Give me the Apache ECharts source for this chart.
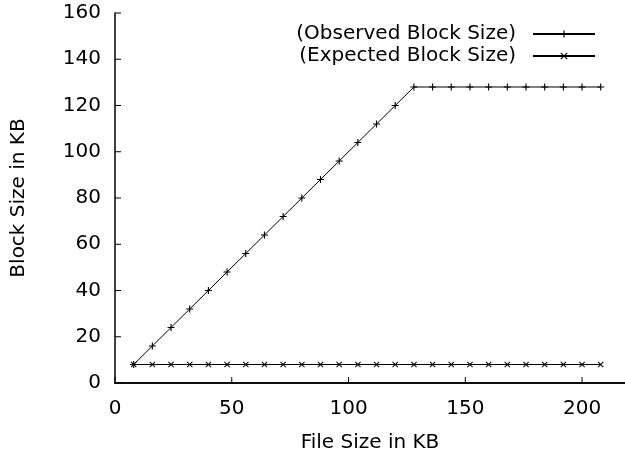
<!DOCTYPE html>
<html>
<head>
<meta charset="utf-8">
<script src="https://cdn.jsdelivr.net/npm/echarts@6/dist/echarts.min.js"></script>
<style>html,body{margin:0;padding:0;background:#fff}#c{width:625px;height:458px}</style>
</head>
<body>
<div id="c"></div>
<script>
var fileSizes = [8,16,24,32,40,48,56,64,72,80,88,96,104,112,120,128,136,144,152,160,168,176,184,192,200,208];
var observed  = [8,16,24,32,40,48,56,64,72,80,88,96,104,112,120,128,128,128,128,128,128,128,128,128,128,128];
var expected  = [8,8,8,8,8,8,8,8,8,8,8,8,8,8,8,8,8,8,8,8,8,8,8,8,8,8];
var xTicks = [0,50,100,150,200];
var yTicks = [0,20,40,60,80,100,120,140,160];
var seriesNames = ['(Observed Block Size)', '(Expected Block Size)'];

var FONT = 'DejaVu Sans';
var plusPath = 'path://M4.2,0H5.8V4.2H10V5.8H5.8V10H4.2V5.8H0V4.2H4.2Z';
var crossPath = 'path://M0,1.1L1.1,0L5,3.9L8.9,0L10,1.1L6.1,5L10,8.9L8.9,10L5,6.1L1.1,10L0,8.9L3.9,5Z';
var X_MAX = 218.4;
var TICK_LEN = 6;

function pairs(xs, ys){ return xs.map(function(x,i){ return [x, ys[i]]; }); }
function tickFmt(list){ return function(v){ return list.indexOf(v) >= 0 ? String(v) : ''; }; }

// inward tick marks, placed through the axes' own scales
function tickSeries(data, dx, dy){
  return {
    type: 'custom', silent: true, xAxisIndex: 0, yAxisIndex: 0, z: 5,
    data: data,
    renderItem: function(params, api){
      var p = api.coord([api.value(0), api.value(1)]);
      return {type: 'line', shape: {x1: p[0], y1: p[1], x2: p[0] + dx, y2: p[1] + dy},
              style: {stroke: '#000', lineWidth: 1}};
    }
  };
}

var chart = echarts.init(document.getElementById('c'), null, {renderer:'canvas'});
chart.setOption({
  animation: false,
  backgroundColor: '#fff',
  textStyle: {fontFamily: FONT},
  grid: {left: 115, right: 0, top: 13, bottom: 73},
  legend: {
    orient: 'vertical',
    right: 24, top: 19,
    align: 'right',
    itemWidth: 62, itemHeight: 9, itemGap: 2,
    textStyle: {fontFamily: FONT, fontSize: 20, color: '#000', padding: [0, 12, 0, 0]},
    data: seriesNames
  },
  xAxis: [{
    type: 'value', min: 0, max: X_MAX, interval: 50,
    name: 'File Size in KB', nameLocation: 'middle', nameGap: 50,
    nameTextStyle: {fontFamily: FONT, fontSize: 20, color: '#000'},
    axisLine: {show: true, onZero: false, lineStyle: {color: '#000', width: 1.5}},
    axisTick: {show: false},
    axisLabel: {fontFamily: FONT, fontSize: 20, color: '#000', margin: 16, showMaxLabel: false,
      formatter: tickFmt(xTicks)},
    splitLine: {show: false}
  }, {
    type: 'value', position: 'top', min: 0, max: X_MAX,
    axisLine: {show: true, lineStyle: {color: '#000', width: 1.5}},
    axisTick: {show: false}, axisLabel: {show: false}, splitLine: {show: false}
  }],
  yAxis: {
    type: 'value', min: 0, max: 160, interval: 20,
    name: 'Block Size in KB', nameLocation: 'middle', nameGap: 86, nameRotate: 90,
    nameTextStyle: {fontFamily: FONT, fontSize: 20, color: '#000'},
    axisLine: {show: true, onZero: false, lineStyle: {color: '#000', width: 1.5}},
    axisTick: {show: false},
    axisLabel: {fontFamily: FONT, fontSize: 20, color: '#000', margin: 14,
      formatter: tickFmt(yTicks)},
    splitLine: {show: false}
  },
  series: [{
    name: seriesNames[0], type: 'line', data: pairs(fileSizes, observed),
    symbol: plusPath, symbolSize: 7, showAllSymbol: true,
    lineStyle: {color: '#000', width: 1},
    itemStyle: {color: '#000'}
  }, {
    name: seriesNames[1], type: 'line', data: pairs(fileSizes, expected),
    symbol: crossPath, symbolSize: 6, showAllSymbol: true,
    lineStyle: {color: '#000', width: 1},
    itemStyle: {color: '#000'}
  },
  tickSeries(yTicks.map(function(v){ return [0, v]; }), TICK_LEN, 0),
  tickSeries(xTicks.map(function(v){ return [v, 0]; }), 0, -TICK_LEN)
  ]
});
</script>
</body>
</html>
